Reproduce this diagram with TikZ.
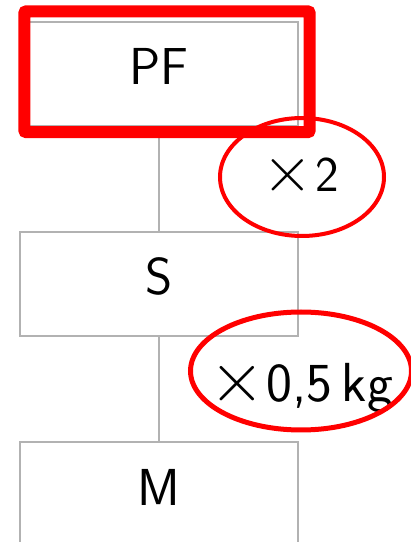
\RequirePackage{fix-cm}
\documentclass[tikz,border=0pt]{standalone}
\usetikzlibrary{shapes.geometric}
\newcommand{\bigtimes}{\scalebox{1.3}{$\times$}}
\begin{document}
\begin{tikzpicture}[x=1pt,y=1pt,
  box/.style={draw=black!30, line width=1.3pt, minimum width=278pt, minimum height=104pt,
    inner sep=0pt, text height=36pt, text depth=14pt, font=\sffamily\fontsize{52}{60}\selectfont},
  link/.style={draw=black!30, line width=1.3pt},
  mult/.style={anchor=base, inner sep=0pt, font=\sffamily\fontsize{50}{55}\selectfont},
  ring/.style={draw=red, line width=4pt},
  hl/.style={draw=red, line width=12pt, rounded corners=2pt}]
\useasboundingbox (0,0) rectangle (411,542);
\node[box] (pf) at (159,468) {PF};
\node[box] (s) at (159,258) {S};
\node[box] (m) at (159,48) {M};
\draw[link] (pf.south) -- (s.north);
\draw[link] (s.south) -- (m.north);
\node[mult] (k1) at (301,350) {\bigtimes\kern2pt 2};
\node[mult, font=\sffamily\fontsize{55}{60}\selectfont] (k2) at (301,140) {\bigtimes\kern2pt 0,5\,kg};
\draw[ring] ([shift={(1pt,15pt)}]k1.base) ellipse [x radius=82pt, y radius=59pt];
\draw[ring, line width=5pt] ([shift={(0pt,31pt)}]k2.base) ellipse [x radius=110.5pt, y radius=59pt];
\draw[hl] ([shift={(5pt,10pt)}]pf.north west) rectangle ([shift={(11pt,-5.5pt)}]pf.south east);
\end{tikzpicture}
\end{document}
